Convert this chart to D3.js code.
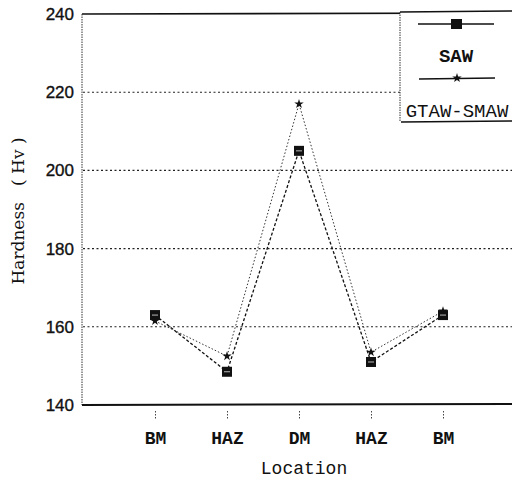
<!DOCTYPE html>
<html>
<head>
<meta charset="utf-8">
<script src="https://cdn.jsdelivr.net/npm/d3@7"></script>
<style>
  html, body { margin: 0; padding: 0; background: #fff; }
  svg { display: block; }
</style>
</head>
<body>
<svg id="chart" width="512" height="480"></svg>
<script>
// Hardness profile across the weld
const locations = ["BM", "HAZ", "DM", "HAZ", "BM"];
const sawValues = [163, 148.5, 205, 151, 163];
const gtawValues = [161.5, 152.5, 217, 153.5, 164];
const yTicks = [140, 160, 180, 200, 220, 240];
const gridValues = [160, 180, 200, 220];
const seriesNames = ["SAW", "GTAW-SMAW"];

const svg = d3.select("#chart");
const mono = "'Liberation Mono', 'DejaVu Sans Mono', monospace";
const serif = "'DejaVu Serif', 'Liberation Serif', serif";
const sans = "'Liberation Sans', Arial, sans-serif";

const x = d3.scaleLinear().domain([-1, 5]).range([83, 515]);
const y = d3.scaleLinear().domain([140, 240]).range([405, 14]);
const idx = locations.map((_, i) => i);

// gridlines
svg.append("g").selectAll("line").data(gridValues).join("line")
  .attr("x1", 83).attr("x2", 512)
  .attr("y1", d => y(d)).attr("y2", d => y(d))
  .attr("stroke", "#222").attr("stroke-width", 1.1)
  .attr("stroke-dasharray", "2,2.5");

// frame: top solid, left dotted, bottom heavy
svg.append("line").attr("x1", 82).attr("x2", 512).attr("y1", y(240)).attr("y2", y(240) - 1)
  .attr("stroke", "#111").attr("stroke-width", 1.6);
svg.append("line").attr("x1", 82).attr("x2", 82).attr("y1", y(240)).attr("y2", y(140))
  .attr("stroke", "#333").attr("stroke-width", 1).attr("stroke-dasharray", "1.5,1");
svg.append("line").attr("x1", 82).attr("x2", 512).attr("y1", y(140)).attr("y2", y(140) - 1)
  .attr("stroke", "#111").attr("stroke-width", 2);

// y-axis tick labels
svg.append("g").selectAll("text").data(yTicks).join("text")
  .attr("x", 74).attr("y", d => y(d) + 6)
  .attr("text-anchor", "end")
  .attr("font-family", sans).attr("font-size", 17)
  .attr("fill", "#111").attr("stroke", "#111").attr("stroke-width", 0.35)
  .text(d => d);

// x-axis ticks and labels
const xAxis = d3.axisBottom(x).tickValues(idx).tickFormat(i => locations[i]).tickSize(0).tickPadding(0);
const gx = svg.append("g").attr("transform", `translate(0,${y(140)})`).call(xAxis);
gx.select(".domain").remove();
gx.selectAll(".tick").append("line")
  .attr("y1", 6).attr("y2", 14)
  .attr("stroke", "#444").attr("stroke-width", 1).attr("stroke-dasharray", "1.5,1.5");
gx.selectAll(".tick text")
  .attr("y", 39)
  .attr("dy", 0)
  .attr("font-family", mono).attr("font-size", 18).attr("font-weight", "bold")
  .attr("fill", "#111");

// axis titles
svg.append("text")
  .attr("x", 304).attr("y", 474)
  .attr("text-anchor", "middle")
  .attr("font-family", mono).attr("font-size", 18)
  .attr("fill", "#111")
  .text("Location");
svg.append("text")
  .attr("transform", "translate(24,211) rotate(-90)")
  .attr("text-anchor", "middle")
  .attr("font-family", serif).attr("font-size", 17)
  .attr("fill", "#111")
  .attr("xml:space", "preserve")
  .text("Hardness   ( Hv )");

// series lines
const line = d3.line().x((d, i) => x(i)).y(d => y(d));
svg.append("path").datum(sawValues).attr("d", line)
  .attr("fill", "none").attr("stroke", "#111").attr("stroke-width", 1.3)
  .attr("stroke-dasharray", "3,2");
svg.append("path").datum(gtawValues).attr("d", line)
  .attr("fill", "none").attr("stroke", "#333").attr("stroke-width", 1)
  .attr("stroke-dasharray", "1.5,2");

// markers
const starSym = d3.symbol().type(d3.symbolStar).size(28);
function squareMarker(g, cx, cy) {
  g.append("rect").attr("x", cx - 5).attr("y", cy - 5).attr("width", 10).attr("height", 10)
    .attr("fill", "#111");
  g.append("line").attr("x1", cx - 3).attr("x2", cx + 3).attr("y1", cy).attr("y2", cy)
    .attr("stroke", "#bbb").attr("stroke-width", 1);
}
const gm = svg.append("g");
gtawValues.forEach((v, i) => {
  gm.append("path").attr("d", starSym).attr("transform", `translate(${x(i)},${y(v)})`)
    .attr("fill", "#111");
});
sawValues.forEach((v, i) => squareMarker(gm, x(i), y(v)));

// legend box
const lg = svg.append("g");
lg.append("rect").attr("x", 400).attr("y", 12).attr("width", 120).attr("height", 110)
  .attr("fill", "#fff").attr("stroke", "none");
lg.append("line").attr("x1", 400).attr("x2", 400).attr("y1", 12).attr("y2", 122)
  .attr("stroke", "#333").attr("stroke-width", 1).attr("stroke-dasharray", "1.5,1");
lg.append("line").attr("x1", 400).attr("x2", 512).attr("y1", 12).attr("y2", 11)
  .attr("stroke", "#111").attr("stroke-width", 1.5);
lg.append("line").attr("x1", 401).attr("x2", 512).attr("y1", 122).attr("y2", 121)
  .attr("stroke", "#111").attr("stroke-width", 1.6);

// legend entries
lg.append("line").attr("x1", 418).attr("x2", 494).attr("y1", 24).attr("y2", 24)
  .attr("stroke", "#111").attr("stroke-width", 1.4);
lg.append("rect").attr("x", 451).attr("y", 19).attr("width", 11).attr("height", 10).attr("fill", "#111");
lg.append("text").attr("x", 456).attr("y", 62).attr("text-anchor", "middle")
  .attr("font-family", mono).attr("font-size", 19).attr("font-weight", "bold").attr("fill", "#111")
  .text(seriesNames[0]);
lg.append("line").attr("x1", 419).attr("x2", 495).attr("y1", 79).attr("y2", 78)
  .attr("stroke", "#111").attr("stroke-width", 1.4);
lg.append("path").attr("d", starSym).attr("transform", "translate(457,78)").attr("fill", "#111");
lg.append("text").attr("x", 457).attr("y", 117).attr("text-anchor", "middle")
  .attr("font-family", mono).attr("font-size", 19).attr("fill", "#111")
  .text(seriesNames[1]);
</script>
</body>
</html>
